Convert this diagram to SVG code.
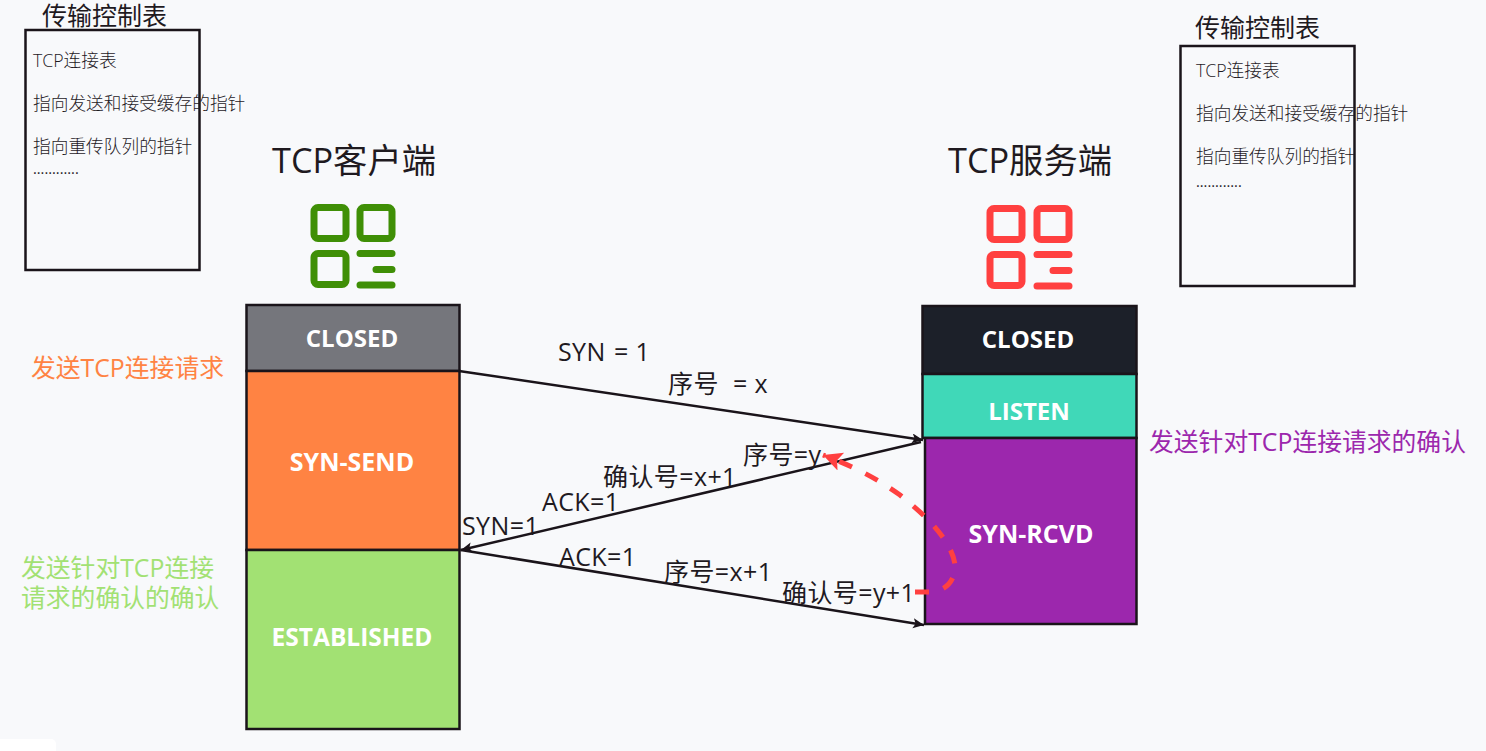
<svg xmlns="http://www.w3.org/2000/svg" width="1486" height="751" viewBox="0 0 1486 751">
<style>
text{font-family:"Open Sans","Noto Sans CJK SC",sans-serif;fill:#1f1a1f}
.t{font-size:17.700px;font-weight:300}.d{font-size:14.500px}.h{font-size:25px}.b{font-size:34.300px}
.s{font-size:24px;font-weight:700;fill:#fff;text-anchor:middle}
.s2{font-size:25px}
.c{font-size:25px;letter-spacing:.4px}
.n{font-size:24.800px}
.box{fill:none;stroke:#1a141a;stroke-width:2.500}
.st{stroke:#1a141a;stroke-width:2.500}
.con{fill:none;stroke:#1a141a;stroke-width:2.500;marker-end:url(#a)}
.g{fill:none;stroke:#3f8f06;stroke-width:7}
.r{fill:none;stroke:#ff4040;stroke-width:7}
</style>
<defs>
<marker id="a" markerUnits="userSpaceOnUse" markerWidth="14" markerHeight="12" refX="11" refY="5" orient="auto"><path d="M0 0L11 5L0 10L2.500 5Z" fill="#1a141a"/></marker>
<marker id="d" markerUnits="userSpaceOnUse" markerWidth="24" markerHeight="24" refX="19" refY="9.500" orient="auto"><path d="M0 0L19 9.500L0 19L4 9.500Z" fill="#ff4040"/></marker>
</defs>
<rect width="1486" height="751" fill="#f8f9fb"/>
<rect x="-10" y="739" width="66" height="22" rx="5" fill="#fff"/>

<g id="table-client">
<text class="h" x="42" y="25">传输控制表</text>
<rect class="box" x="25.500" y="30" width="174" height="240"/>
<text class="t" x="33" y="67">TCP连接表</text>
<text class="t" x="33" y="110">指向发送和接受缓存的指针</text>
<text class="t" x="33" y="153">指向重传队列的指针</text>
<text class="d" x="33" y="174">............</text>
</g>
<g id="table-server">
<text class="h" x="1195" y="37">传输控制表</text>
<rect class="box" x="1180.500" y="46" width="174" height="240"/>
<text class="t" x="1196" y="77">TCP连接表</text>
<text class="t" x="1196" y="120">指向发送和接受缓存的指针</text>
<text class="t" x="1196" y="163">指向重传队列的指针</text>
<text class="d" x="1196" y="187">............</text>
</g>

<g id="client-title"><text class="b" x="272" y="173">TCP客户端</text></g>
<g id="server-title"><text class="b" x="948" y="173">TCP服务端</text></g>

<g id="client-icon">
<rect class="g" x="314" y="207.500" width="32" height="31" rx="4"/>
<rect class="g" x="360" y="207.500" width="32" height="31" rx="4"/>
<rect class="g" x="314" y="253.500" width="32" height="31" rx="4"/>
<path d="M360 253.500H392M376 269.500H392M360 285H392" fill="none" stroke="#3f8f06" stroke-width="7" stroke-linecap="round"/>
</g>
<g id="server-icon">
<rect class="r" x="990" y="208.500" width="32" height="31" rx="4"/>
<rect class="r" x="1037" y="208.500" width="32" height="31" rx="4"/>
<rect class="r" x="990" y="254.500" width="32" height="31" rx="4"/>
<path d="M1037 254.500H1069M1053 270.500H1069M1037 286H1069" fill="none" stroke="#ff4040" stroke-width="7" stroke-linecap="round"/>
</g>

<g id="client-closed"><rect class="st" x="246.500" y="305" width="213" height="66" fill="#75767c"/><text class="s" x="352" y="347">CLOSED</text></g>
<g id="client-syn-send"><rect class="st" x="246.500" y="371" width="213" height="179" fill="#ff8343"/><text class="s s2" x="352" y="471">SYN-SEND</text></g>
<g id="client-established"><rect class="st" x="246.500" y="550" width="213" height="179" fill="#a2e173"/><text class="s" x="352" y="646" style="font-size:24.500px">ESTABLISHED</text></g>

<g id="server-closed"><rect class="st" x="922.500" y="306" width="214" height="68" fill="#1c2029"/><text class="s" x="1028" y="348">CLOSED</text></g>
<g id="server-listen"><rect class="st" x="922.500" y="374" width="214" height="64" fill="#40d8b8"/><text class="s" x="1029" y="420">LISTEN</text></g>
<g id="server-syn-rcvd"><rect class="st" x="925" y="438" width="211.500" height="186" fill="#9c27ad"/><text class="s s2" x="1031" y="543">SYN-RCVD</text></g>

<g id="connectors">
<path class="con" d="M459 371L923 440"/>
<path class="con" d="M921 442L461 550"/>
<path class="con" d="M461 550L924 625"/>
<path d="M915 592H930C945 592 956 580 955 565C952 540 925 515 900 495C875 477 850 465 823 455" fill="none" stroke="#ff4040" stroke-width="5" stroke-dasharray="14 15" marker-end="url(#d)"/>
</g>

<g id="labels">
<text class="c" x="558" y="361">SYN</text><text class="c" x="614" y="361">= 1</text>
<text class="c" x="668" y="393">序号</text><text class="c" x="733" y="393">= x</text>
<text class="c" x="743" y="464">序号=y</text>
<text class="c" x="603" y="486">确认号=x+1</text>
<text class="c" x="542" y="511">ACK=1</text>
<text class="c" x="462" y="535">SYN=1</text>
<text class="c" x="559" y="566">ACK=1</text>
<text class="c" x="664" y="581">序号=x+1</text>
<text class="c" x="782" y="602">确认号=y+1</text>
<text class="n" x="31" y="377" style="fill:#ff8343">发送TCP连接请求</text>
<text class="n" style="fill:#a2e173"><tspan x="21" y="577">发送针对TCP连接</tspan><tspan x="21" y="607">请求的确认的确认</tspan></text>
<text class="n" x="1149" y="451" style="fill:#9c27ad">发送针对TCP连接请求的确认</text>
</g>
</svg>
